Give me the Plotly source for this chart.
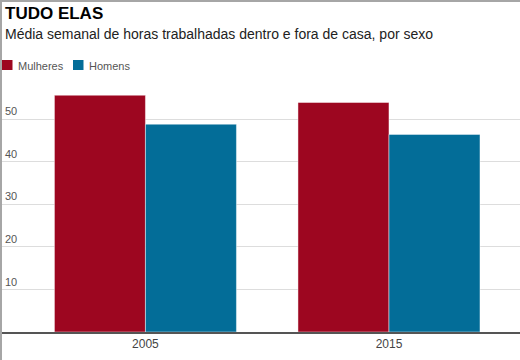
import plotly.graph_objects as go

categories = ["2005", "2015"]
mulheres = [55.6, 53.9]
homens = [48.8, 46.4]
series_names = ["Mulheres", "Homens"]
series_colors = ["#9d0620", "#036d98"]
y_ticks = [10, 20, 30, 40, 50]

title_text = "TUDO ELAS"
subtitle_text = "Média semanal de horas trabalhadas dentro e fora de casa, por sexo"

W, H = 520, 360
ML, MR, MT, MB = 2, 0, 85, 28
PW = W - ML - MR
PH = H - MT - MB


def px_x(p):
    return (p - ML) / PW


def px_y(p):
    return (H - MB - p) / PH


fig = go.Figure()
for name, vals, col in zip(series_names, [mulheres, homens], series_colors):
    fig.add_trace(go.Bar(
        x=categories, y=vals, name=name,
        marker=dict(color=col, line=dict(color="rgba(255,255,255,0.45)", width=1)),
        showlegend=False, hoverinfo="x+y+name",
    ))

annotations = [
    dict(text="<b>" + title_text + "</b>", x=px_x(3), y=px_y(13.5), xref="paper", yref="paper",
         xanchor="left", yanchor="middle", showarrow=False,
         font=dict(family="Arial", size=17, color="#000000")),
    dict(text=subtitle_text, x=px_x(3), y=px_y(34), xref="paper", yref="paper",
         xanchor="left", yanchor="middle", showarrow=False,
         font=dict(family="Arial", size=14, color="#222222")),
]
shapes = []
legend_x = [2, 73]
for lx, name, col in zip(legend_x, series_names, series_colors):
    shapes.append(dict(type="rect", xref="paper", yref="paper",
                       x0=px_x(lx), x1=px_x(lx + 10.5), y0=px_y(70), y1=px_y(60),
                       fillcolor=col, line=dict(width=0)))
    annotations.append(dict(text=name, x=px_x(lx + 13.5), y=px_y(65.5), xref="paper", yref="paper",
                            xanchor="left", yanchor="middle", showarrow=False,
                            font=dict(family="Arial", size=11, color="#555555")))

# page borders (top and left)
shapes.append(dict(type="line", xref="paper", yref="paper",
                   x0=px_x(0), x1=px_x(W), y0=px_y(1), y1=px_y(1),
                   line=dict(color="#a6a6a6", width=2)))
shapes.append(dict(type="line", xref="paper", yref="paper",
                   x0=px_x(1), x1=px_x(1), y0=px_y(0), y1=px_y(H),
                   line=dict(color="#a6a6a6", width=2)))

fig.update_layout(
    width=W, height=H,
    margin=dict(l=ML, r=MR, t=MT, b=MB, pad=0),
    paper_bgcolor="white", plot_bgcolor="white",
    barmode="group", bargap=0.2526, bargroupgap=0,
    font=dict(family="Arial", size=11, color="#555555"),
    xaxis=dict(type="category", range=[-0.589, 1.538], showgrid=False,
               showline=True, linecolor="#555555", linewidth=2,
               ticks="", tickfont=dict(size=12, color="#444444"), fixedrange=True),
    yaxis=dict(range=[0, 58], tickvals=y_ticks, showgrid=True, gridcolor="#dddddd",
               gridwidth=1, zeroline=False, showline=False,
               ticklabelposition="inside top", tickfont=dict(size=11, color="#555555"),
               fixedrange=True),
    annotations=annotations, shapes=shapes,
    showlegend=False,
)

fig.write_html(
    "out.html",
    config={"displayModeBar": False},
    post_script="document.body.style.margin='0';document.body.style.overflow='hidden';",
)
